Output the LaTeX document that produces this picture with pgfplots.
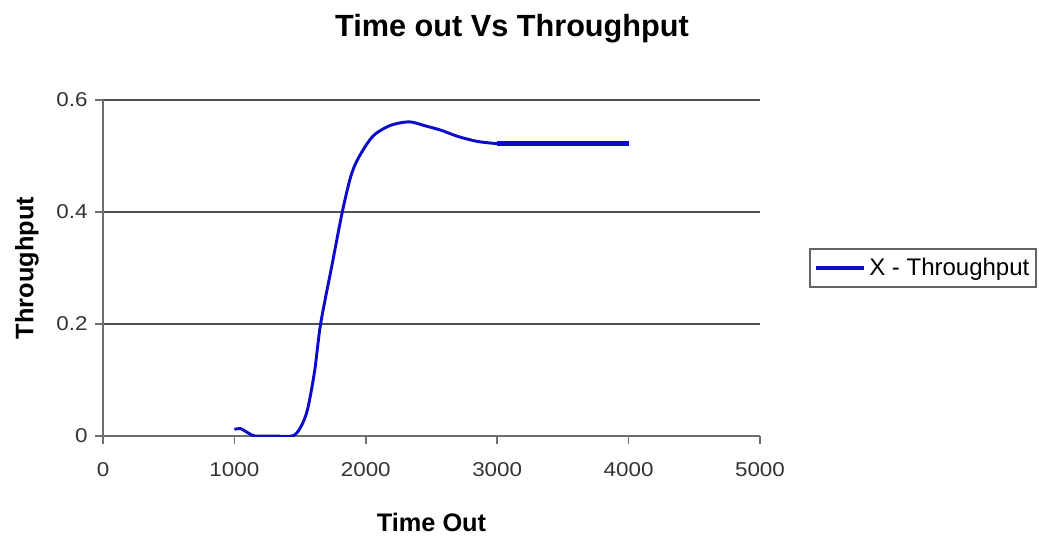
\documentclass[border=0pt]{standalone}
\usepackage{pgfplots}
\pgfplotsset{compat=1.18}
\usepackage{fontspec}
\setmainfont{Liberation Sans}
\newfontfamily\tickfont{Liberation Sans}[FakeStretch=1.12]
\definecolor{lineblue}{RGB}{12,12,200}
\definecolor{gridgray}{RGB}{80,80,80}
\definecolor{axgray}{RGB}{110,110,110}
\begin{document}
\begin{tikzpicture}
\useasboundingbox (-77.25pt,-77.25pt) rectangle (702pt,327pt);
\begin{axis}[
  scale only axis,
  width=492.75pt, height=252pt,
  xmin=0, xmax=5000, ymin=0, ymax=0.6,
  xtick={0,1000,2000,3000,4000,5000},
  ytick={0,0.2,0.4,0.6},
  axis lines*=left,
  axis line style={axgray, line width=1.2pt},
  ymajorgrids,
  grid style={gridgray, line width=1.2pt},
  tick align=outside,
  major tick length=6pt,
  tick style={axgray, line width=1.2pt},
  /pgf/number format/assume math mode=true,
  /pgf/number format/1000 sep={},
  tick label style={font=\tickfont\fontsize{15}{15}\selectfont, text=black!80},
  xticklabel style={yshift=-10pt},
  yticklabel style={xshift=-2pt},
  title={Time out Vs Throughput},
  title style={at={(axis description cs:0.6225,1.1875)}, anchor=center, font=\bfseries\fontsize{23}{23}\selectfont},
  xlabel={Time Out},
  xlabel style={at={(axis description cs:0.5,-0.256)}, anchor=center, font=\bfseries\fontsize{19}{19}\selectfont},
  ylabel={Throughput},
  ylabel style={at={(axis description cs:-0.1157,0.5)}, anchor=center, rotate=0, font=\bfseries\fontsize{19}{19}\selectfont},
  legend style={at={(axis description cs:1.075,0.5)}, anchor=west, draw=black!60, line width=1pt,
    font=\fontsize{18}{18}\selectfont, inner xsep=3pt, inner ysep=5pt},
  legend cell align=left,
  legend image code/.code={\draw[#1, line width=3.5pt] (0pt,0pt) -- (36pt,0pt);},
]
\addplot[lineblue, line width=2.2pt, smooth, forget plot] coordinates {
 (1000,0.012) (1050,0.013) (1100,0.006) (1160,0.0) (1300,0.0) (1440,0.0)
 (1500,0.014) (1555,0.046) (1610,0.115) (1656,0.20) (1740,0.302) (1821,0.40) (1885,0.463)
 (1936,0.493) (2013,0.523) (2076,0.540) (2191,0.555) (2331,0.561) (2450,0.554)
 (2573,0.546) (2700,0.535) (2850,0.526) (3000,0.522)
};
\addplot[lineblue, line width=3.8pt] coordinates {(3000,0.522) (4000,0.522)};
\addlegendentry{X - Throughput}
\end{axis}
\end{tikzpicture}
\end{document}
